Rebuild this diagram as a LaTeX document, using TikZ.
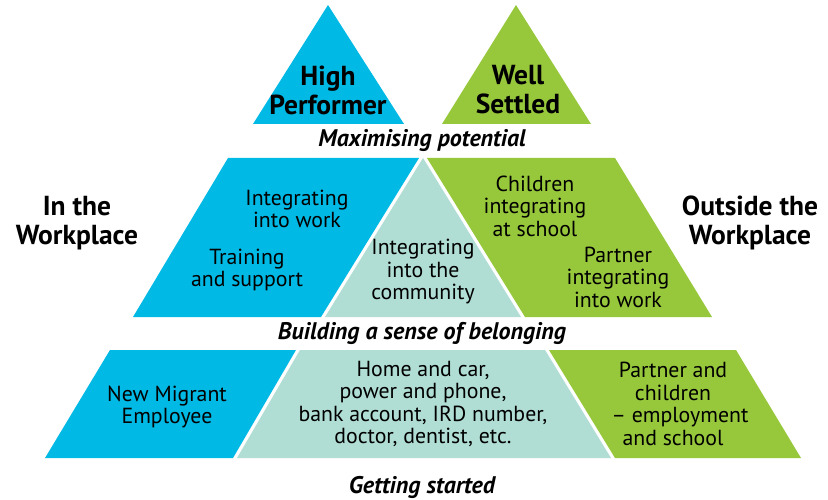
\documentclass[tikz,border=0pt]{standalone}
\usepackage{fontspec}
\setmainfont{PT Sans}
\definecolor{cblue}{HTML}{00B9E4}
\definecolor{cgreen}{HTML}{97C83C}
\definecolor{cteal}{HTML}{B0DDD4}
\tikzset{
  body/.style={font=\fontsize{21.8}{22.5}\selectfont, align=center, inner sep=0pt},
  head/.style={font=\fontsize{27.5}{29}\selectfont\bfseries, align=center, inner sep=0pt},
  tier/.style={font=\fontsize{24}{25}\selectfont\bfseries\itshape, inner sep=0pt},
}
\begin{document}
\begin{tikzpicture}[x=1pt,y=-1pt]
\useasboundingbox[fill=white] (0,0) rectangle (828,500);
% top triangles
\fill[cblue] (328,5) -- (404,124) -- (253,124) -- cycle;
\fill[cgreen] (516,5) -- (591,124) -- (442,124) -- cycle;
% middle band
\fill[cblue] (228,158) -- (419,158) -- (321,317) -- (133,317) -- cycle;
\fill[cteal] (423,158) -- (521,317) -- (325,317) -- cycle;
\fill[cgreen] (427,158) -- (615,158) -- (712,317) -- (525,317) -- cycle;
% bottom band
\fill[cblue] (110,350) -- (296,350) -- (233,458) -- (45,458) -- cycle;
\fill[cteal] (300,350) -- (545,350) -- (611,458) -- (237,458) -- cycle;
\fill[cgreen] (549,350) -- (736,350) -- (801,458) -- (615,458) -- cycle;
% texts
\node[head] (hp) at (328,90) {High\\Performer};
\node[head] (ws) at (518,90) {Well\\Settled};
\node[tier] (mp) at (422,141) {Maximising potential};
\node[head] (iw) at (77,223) {In the\\Workplace};
\node[head] (ow) at (750,223) {Outside the\\Workplace};
\node[body] (iiw) at (297,209) {Integrating\\into work};
\node[body] (ts) at (247,270) {Training\\and support};
\node[body] (ic) at (423,272) {Integrating\\into the\\community};
\node[body] (ch) at (535,206) {Children\\integrating\\at school};
\node[body] (pi) at (618,277) {Partner\\integrating\\into work};
\node[tier] (bb) at (422,333) {Building a sense of belonging};
\node[body] (nm) at (167,407) {New Migrant\\Employee};
\node[body] (hc) at (423,404) {Home and car,\\power and phone,\\bank account, IRD number,\\doctor, dentist, etc.};
\node[body] (pc) at (673,404) {Partner and\\children\\\hspace*{14pt}-- employment\\and school};
\node[tier] (gs) at (422,487) {Getting started};
\end{tikzpicture}
\end{document}
